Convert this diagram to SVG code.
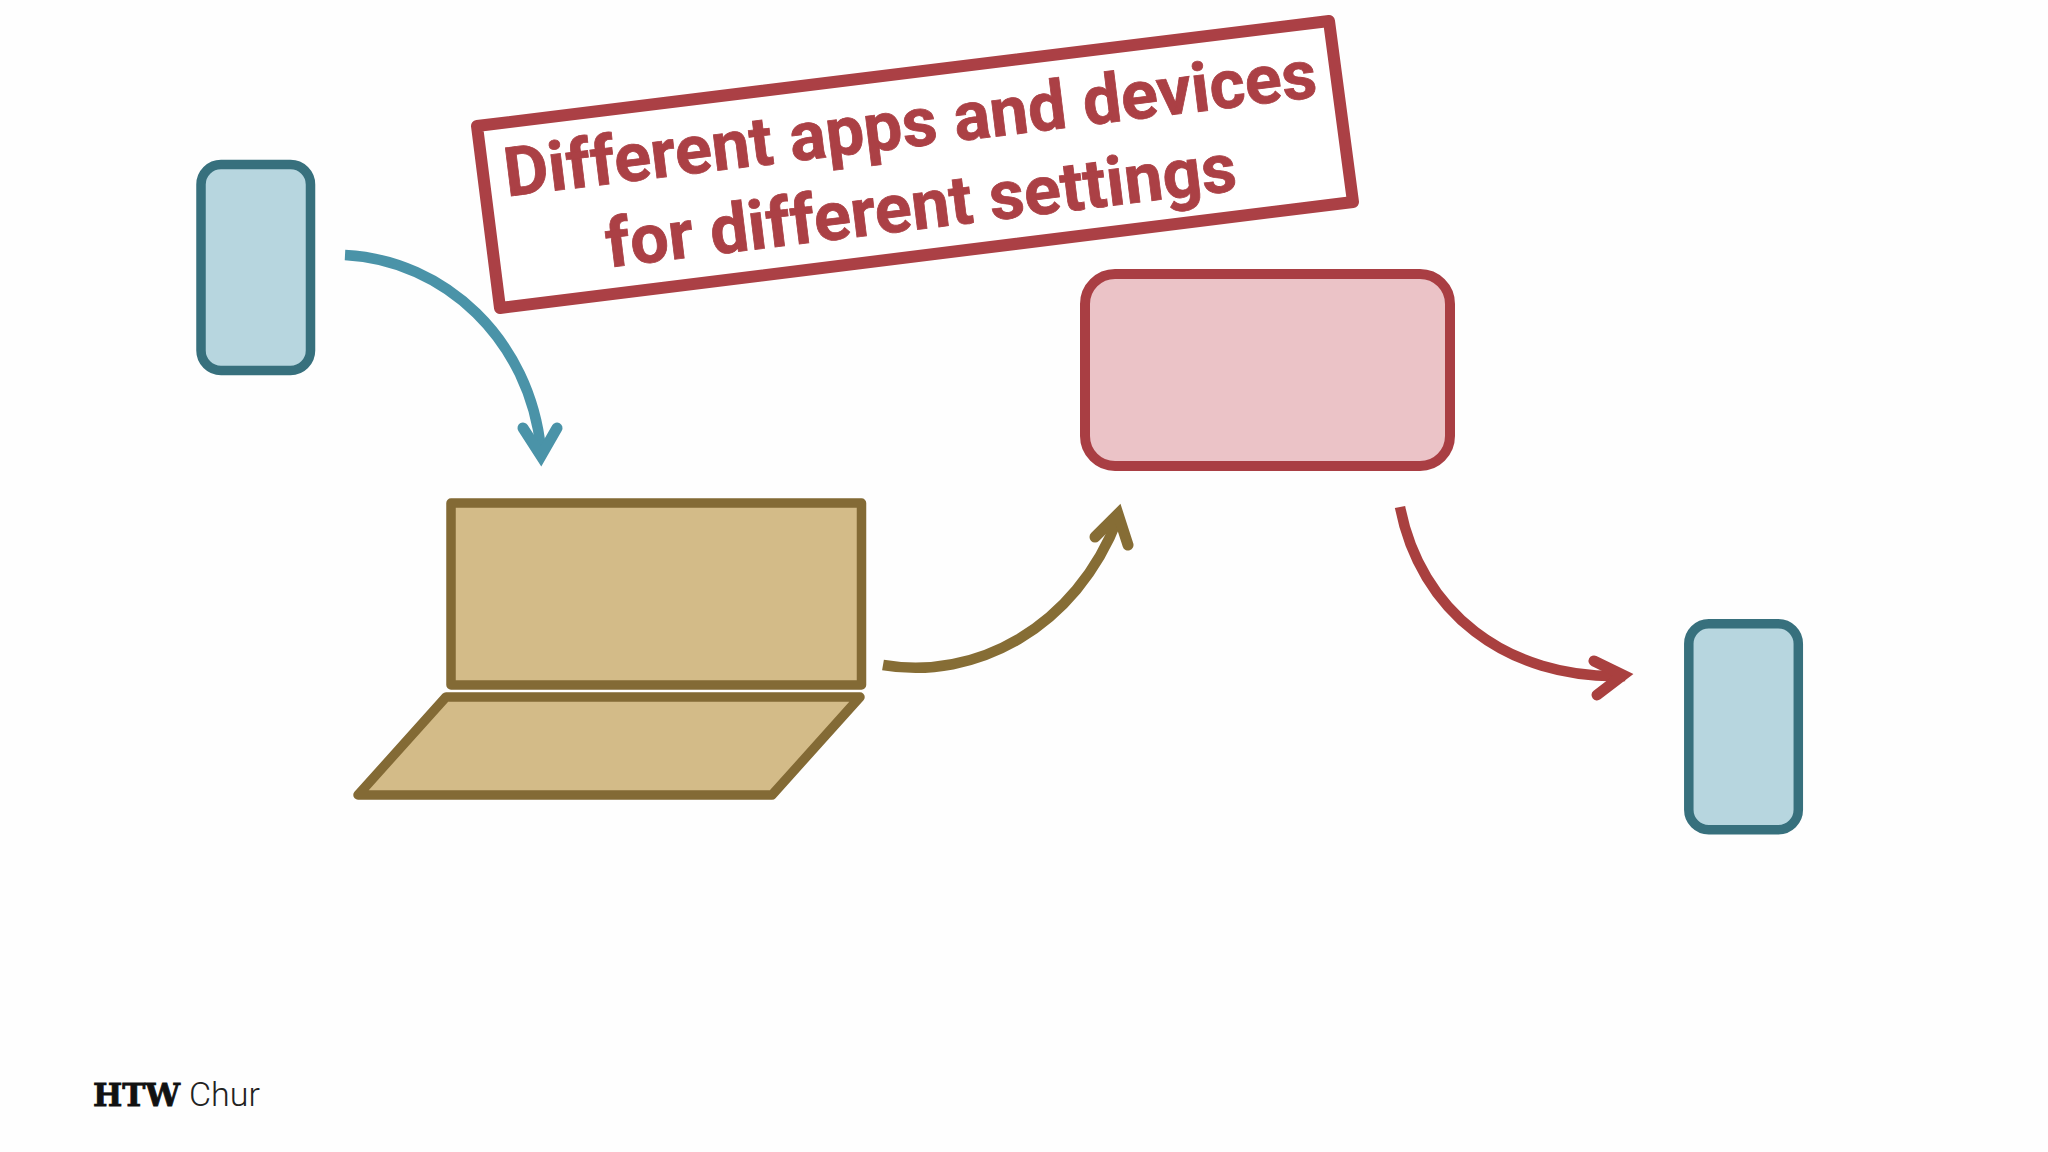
<svg xmlns="http://www.w3.org/2000/svg" width="2048" height="1152" viewBox="0 0 2048 1152">
<style>
.phone{fill:#b7d6df;stroke:#37707d;stroke-width:9.500}
.lap{fill:#d3bb88;stroke:#836a35;stroke-width:9.500;stroke-linejoin:round}
.conn{fill:none;stroke-width:10.500}
.head{fill:none;stroke-width:11;stroke-linecap:round;stroke-linejoin:miter;stroke-miterlimit:8}
.t{fill:#ab4045;stroke:#ab4045;stroke-width:0.800;font-family:Roboto,"Liberation Sans",sans-serif;font-weight:700;font-size:68.300px}
</style>
<rect width="2048" height="1152" fill="#fefefe"/>
<g id="connectors">
<g id="arrow-phone-laptop" stroke="#4a93a8">
<path class="conn" d="M345,255C445,260 530,340 541,450"/>
<path class="head" d="M523,428L541,456L557,428"/>
</g>
<g id="arrow-laptop-server" stroke="#866d35">
<path class="conn" d="M883,665C975,681 1076,628 1118,518"/>
<path class="head" d="M1095,537L1118,514L1128,545"/>
</g>
<g id="arrow-server-phone" stroke="#a9403f">
<path class="conn" d="M1400,507C1420,610 1505,680 1625,676"/>
<path class="head" d="M1594,661L1623,675L1597,695"/>
</g>
</g>
<g id="phone-left"><rect class="phone" x="201" y="164.500" width="109.500" height="206" rx="20"/></g>
<g id="laptop">
<rect class="lap" x="451" y="503" width="410.500" height="182"/>
<path class="lap" d="M446,697L860,697L772,795L358,795Z"/>
</g>
<g id="server"><rect x="1085" y="274" width="365" height="192" rx="30" fill="#ebc3c7" stroke="#a93e43" stroke-width="10"/></g>
<g id="phone-right"><rect class="phone" x="1688.800" y="623.800" width="109.500" height="206" rx="20"/></g>
<g id="banner">
<path d="M477,126L1329,21L1353,202L500,308Z" fill="#fff" stroke="#ab4045" stroke-width="12" stroke-linejoin="round"/>
<text class="t" transform="translate(507,196.500) rotate(-7)">Different apps and devices</text>
<text class="t" transform="translate(608.500,267.500) rotate(-7)">for different settings</text>
</g>
<g id="logo">
<text x="93" y="1106" font-family="'DejaVu Serif',serif" font-weight="700" font-size="31" fill="#111" stroke="#111" stroke-width="0.800">HTW</text>
<text x="189" y="1106" font-family="Roboto,sans-serif" font-weight="300" font-size="34" fill="#222">Chur</text>
</g>
</svg>
